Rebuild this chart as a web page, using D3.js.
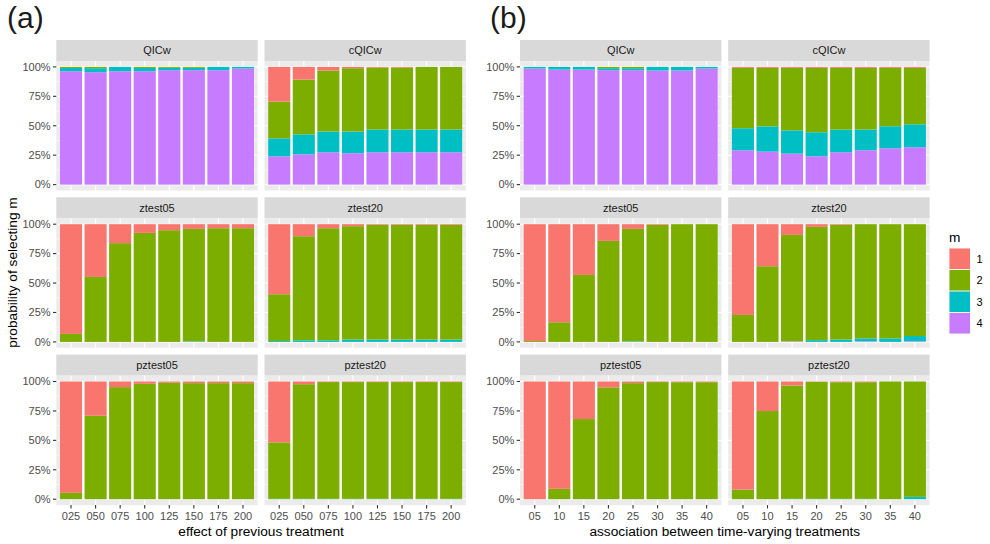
<!DOCTYPE html>
<html>
<head>
<meta charset="utf-8">
<script src="https://cdn.jsdelivr.net/npm/d3@7/dist/d3.min.js"></script>
<style>
  body { margin: 0; background: #fff; }
  svg { display: block; font-family: 'Liberation Sans', Arial, sans-serif; }
</style>
</head>
<body>
<div id="chart"></div>
<script>
// x categories of the two halves
const effectLevels = ['025', '050', '075', '100', '125', '150', '175', '200'];
const assocLevels = ['05', '10', '15', '20', '25', '30', '35', '40'];
const mLevels = ['1', '2', '3', '4'];
const mColors = ['#F8766D', '#7CAE00', '#00BFC4', '#C77CFF'];
const methods = ['QICw', 'cQICw', 'ztest05', 'ztest20', 'pztest05', 'pztest20'];
const yTicks = [0, 0.25, 0.5, 0.75, 1];
const yMinor = [0.125, 0.375, 0.625, 0.875];

// (a) share of runs selecting m, one row per m = 1..4
const aQICw = [
  [0, 0, 0, 0, 0, 0, 0, 0],
  [0.009, 0.011, 0, 0.009, 0.008, 0.008, 0, 0],
  [0.028, 0.034, 0.037, 0.028, 0.020, 0.020, 0.028, 0.014],
  [0.963, 0.955, 0.963, 0.963, 0.972, 0.972, 0.972, 0.986],
];
const aCQICw = [
  [0.295, 0.108, 0.031, 0.011, 0.005, 0.005, 0, 0],
  [0.312, 0.465, 0.518, 0.538, 0.527, 0.527, 0.532, 0.532],
  [0.153, 0.170, 0.176, 0.184, 0.193, 0.193, 0.193, 0.193],
  [0.240, 0.257, 0.275, 0.267, 0.275, 0.275, 0.275, 0.275],
];
const aZtest05 = [
  [0.932, 0.448, 0.161, 0.074, 0.051, 0.040, 0.034, 0.034],
  [0.068, 0.552, 0.839, 0.926, 0.949, 0.955, 0.966, 0.966],
  [0, 0, 0, 0, 0, 0.005, 0, 0],
  [0, 0, 0, 0, 0, 0, 0, 0],
];
const aZtest20 = [
  [0.595, 0.102, 0.034, 0.017, 0.006, 0.006, 0.006, 0.006],
  [0.397, 0.884, 0.952, 0.963, 0.974, 0.974, 0.974, 0.974],
  [0.008, 0.014, 0.014, 0.020, 0.020, 0.020, 0.020, 0.020],
  [0, 0, 0, 0, 0, 0, 0, 0],
];
const aPztest05 = [
  [0.946, 0.291, 0.048, 0.020, 0.011, 0.014, 0.014, 0.014],
  [0.054, 0.709, 0.952, 0.980, 0.989, 0.986, 0.986, 0.986],
  [0, 0, 0, 0, 0, 0, 0, 0],
  [0, 0, 0, 0, 0, 0, 0, 0],
];
const aPztest20 = [
  [0.517, 0.023, 0.005, 0.005, 0.005, 0.005, 0.005, 0.005],
  [0.480, 0.974, 0.992, 0.992, 0.992, 0.992, 0.992, 0.992],
  [0.003, 0.003, 0.003, 0.003, 0.003, 0.003, 0.003, 0.003],
  [0, 0, 0, 0, 0, 0, 0, 0],
];

// (b)
const bQICw = [
  [0, 0, 0, 0, 0, 0, 0, 0],
  [0, 0, 0, 0.011, 0.011, 0, 0, 0],
  [0.014, 0.023, 0.023, 0.017, 0.017, 0.031, 0.031, 0.014],
  [0.986, 0.977, 0.977, 0.972, 0.972, 0.969, 0.969, 0.986],
];
const bCQICw = [
  [0.008, 0.008, 0.008, 0.008, 0.008, 0.008, 0.008, 0.008],
  [0.513, 0.497, 0.531, 0.547, 0.524, 0.524, 0.496, 0.480],
  [0.187, 0.215, 0.198, 0.204, 0.193, 0.176, 0.187, 0.195],
  [0.292, 0.280, 0.263, 0.241, 0.275, 0.292, 0.309, 0.317],
];
const bZtest05 = [
  [0.992, 0.833, 0.431, 0.142, 0.040, 0.006, 0, 0],
  [0.008, 0.167, 0.569, 0.858, 0.955, 0.994, 1, 1],
  [0, 0, 0, 0, 0.005, 0, 0, 0],
  [0, 0, 0, 0, 0, 0, 0, 0],
];
const bZtest20 = [
  [0.771, 0.357, 0.091, 0.023, 0.006, 0, 0, 0],
  [0.229, 0.643, 0.904, 0.962, 0.974, 0.970, 0.970, 0.950],
  [0, 0, 0, 0.015, 0.020, 0.025, 0.030, 0.045],
  [0, 0, 0.005, 0, 0, 0.005, 0, 0.005],
];
const bPztest05 = [
  [1, 0.912, 0.319, 0.050, 0.014, 0.005, 0.006, 0.006],
  [0, 0.088, 0.681, 0.950, 0.986, 0.995, 0.994, 0.994],
  [0, 0, 0, 0, 0, 0, 0, 0],
  [0, 0, 0, 0, 0, 0, 0, 0],
];
const bPztest20 = [
  [0.918, 0.251, 0.034, 0.003, 0.006, 0.006, 0, 0],
  [0.082, 0.749, 0.963, 0.994, 0.991, 0.991, 1, 0.980],
  [0, 0, 0.003, 0.003, 0.003, 0.003, 0, 0.020],
  [0, 0, 0, 0, 0, 0, 0, 0],
];

const width = 990;
const height = 544;
const plotTop = 40;
const stripH = 21;
const panelH = 129.5;
const panelW = 201.4;
const spacing = 6.8;
const tickLen = 3.3;

const halves = [
  {label: '(a)', labelX: 7, left: 56.3, cats: effectLevels,
    title: 'effect of previous treatment',
    facets: [aQICw, aCQICw, aZtest05, aZtest20, aPztest05, aPztest20]},
  {label: '(b)', labelX: 490, left: 520, cats: assocLevels,
    title: 'association between time-varying treatments',
    facets: [bQICw, bCQICw, bZtest05, bZtest20, bPztest05, bPztest20]},
];

let svg = d3.select('#chart')
  .append('svg')
    .attr('width', width)
    .attr('height', height);

let stack = d3.stack().keys(['4', '3', '2', '1']);
let color = d3.scaleOrdinal().domain(mLevels).range(mColors);

/**
* Draw one facet panel.
* @param {object} half - the (a) or (b) half.
* @param {number} k - facet index.
*/
function drawFacet(half, k) {
  const col = k % 2;
  const row = Math.floor(k / 2);
  const x0 = half.left + col * (panelW + spacing);
  const y0 = plotTop + row * (stripH + panelH + spacing);
  const py = y0 + stripH;

  let x = d3.scaleBand()
      .domain(half.cats)
      .range([x0, x0 + panelW])
      .paddingInner(0.1)
      .paddingOuter(0.15);
  let y = d3.scaleLinear()
      .domain([-0.05, 1.05])
      .range([py + panelH, py]);

  let g = svg.append('g');

  // strip
  g.append('rect')
      .attr('x', x0)
      .attr('y', y0)
      .attr('width', panelW)
      .attr('height', stripH)
      .attr('fill', '#D9D9D9');
  g.append('text')
      .attr('x', x0 + panelW / 2)
      .attr('y', y0 + stripH / 2)
      .attr('dy', '0.36em')
      .attr('text-anchor', 'middle')
      .attr('font-size', 11)
      .attr('fill', '#1A1A1A')
      .text(methods[k]);

  // panel background and grid
  g.append('rect')
      .attr('x', x0)
      .attr('y', py)
      .attr('width', panelW)
      .attr('height', panelH)
      .attr('fill', '#EBEBEB');
  g.selectAll('.minor')
      .data(yMinor)
    .enter()
    .append('line')
      .attr('x1', x0)
      .attr('x2', x0 + panelW)
      .attr('y1', function(d) { return y(d); })
      .attr('y2', function(d) { return y(d); })
      .attr('stroke', '#fff')
      .attr('stroke-width', 0.55);
  g.selectAll('.major')
      .data(yTicks)
    .enter()
    .append('line')
      .attr('x1', x0)
      .attr('x2', x0 + panelW)
      .attr('y1', function(d) { return y(d); })
      .attr('y2', function(d) { return y(d); })
      .attr('stroke', '#fff')
      .attr('stroke-width', 1.1);
  g.selectAll('.vmajor')
      .data(half.cats)
    .enter()
    .append('line')
      .attr('x1', function(d) { return x(d) + x.bandwidth() / 2; })
      .attr('x2', function(d) { return x(d) + x.bandwidth() / 2; })
      .attr('y1', py)
      .attr('y2', py + panelH)
      .attr('stroke', '#fff')
      .attr('stroke-width', 1.1);

  // white backing so the gaps between bars read white
  const cats = half.cats;
  g.append('rect')
      .attr('x', x(cats[0]))
      .attr('y', y(1))
      .attr('width', x(cats[cats.length - 1]) + x.bandwidth() - x(cats[0]))
      .attr('height', y(0) - y(1))
      .attr('fill', '#fff');

  const series = half.facets[k];
  let rows = cats.map(function(c, i) {
    let r = {cat: c};
    mLevels.forEach(function(m, j) {
      r[m] = series[j][i];
    });
    return r;
  });

  g.selectAll('.layer')
      .data(stack(rows))
    .enter()
    .append('g')
      .attr('fill', function(d) { return color(d.key); })
    .selectAll('rect')
      .data(function(d) { return d; })
    .enter()
    .append('rect')
      .attr('x', function(d) { return x(d.data.cat); })
      .attr('width', x.bandwidth())
      .attr('y', function(d) { return y(d[1]); })
      .attr('height', function(d) { return Math.max(0, y(d[0]) - y(d[1])); });

  // y axis on the left column
  if (col === 0) {
    g.selectAll('.ytick')
        .data(yTicks)
      .enter()
      .append('line')
        .attr('x1', x0 - tickLen)
        .attr('x2', x0)
        .attr('y1', function(d) { return y(d); })
        .attr('y2', function(d) { return y(d); })
        .attr('stroke', '#333')
        .attr('stroke-width', 1.1);
    g.selectAll('.ylab')
        .data(yTicks)
      .enter()
      .append('text')
        .attr('x', x0 - tickLen - 2.4)
        .attr('y', function(d) { return y(d); })
        .attr('dy', '0.35em')
        .attr('text-anchor', 'end')
        .attr('font-size', 11)
        .attr('fill', '#4D4D4D')
        .text(d3.format('.0%'));
  }

  // x axis on the bottom row
  if (row === 2) {
    g.selectAll('.xtick')
        .data(cats)
      .enter()
      .append('line')
        .attr('x1', function(d) { return x(d) + x.bandwidth() / 2; })
        .attr('x2', function(d) { return x(d) + x.bandwidth() / 2; })
        .attr('y1', py + panelH)
        .attr('y2', py + panelH + tickLen)
        .attr('stroke', '#333')
        .attr('stroke-width', 1.1);
    g.selectAll('.xlab')
        .data(cats)
      .enter()
      .append('text')
        .attr('x', function(d) { return x(d) + x.bandwidth() / 2; })
        .attr('y', py + panelH + tickLen + 2.4)
        .attr('dy', '0.8em')
        .attr('text-anchor', 'middle')
        .attr('font-size', 11)
        .attr('fill', '#4D4D4D')
        .text(function(d) { return d; });
  }
}

halves.forEach(function(half) {
  half.facets.forEach(function(f, k) {
    drawFacet(half, k);
  });

  svg.append('text')
      .attr('x', half.labelX)
      .attr('y', 28)
      .attr('font-size', 30)
      .attr('fill', '#1A1A1A')
      .text(half.label);

  svg.append('text')
      .attr('x', half.left + panelW + spacing / 2)
      .attr('y', 535.5)
      .attr('text-anchor', 'middle')
      .attr('font-size', 13.7)
      .attr('fill', '#000')
      .text(half.title);
});

// y axis title (only on the left half)
svg.append('text')
    .attr('transform', 'translate(16.5,' + (plotTop + (3 * (stripH + panelH) + 2 * spacing) / 2) + ') rotate(-90)')
    .attr('text-anchor', 'middle')
    .attr('font-size', 13.7)
    .attr('fill', '#000')
    .text('probability of selecting m');

// legend
const legendX = 949;
const legendY = 248;
const keySize = 21.5;

svg.append('text')
    .attr('x', legendX)
    .attr('y', legendY - 6)
    .attr('font-size', 13.7)
    .attr('fill', '#000')
    .text('m');

let legend = svg.selectAll('.key')
    .data(mLevels)
  .enter()
  .append('g')
    .attr('transform', function(d, i) {
      return 'translate(' + legendX + ',' + (legendY + i * keySize) + ')';
    });

legend.append('rect')
    .attr('width', keySize)
    .attr('height', keySize)
    .attr('fill', '#F2F2F2');
legend.append('rect')
    .attr('x', 0.5)
    .attr('y', 0.5)
    .attr('width', keySize - 1)
    .attr('height', keySize - 1)
    .attr('fill', function(d) { return color(d); });
legend.append('text')
    .attr('x', keySize + 6)
    .attr('y', keySize / 2)
    .attr('dy', '0.35em')
    .attr('font-size', 11)
    .attr('fill', '#000')
    .text(function(d) { return d; });
</script>
</body>
</html>
